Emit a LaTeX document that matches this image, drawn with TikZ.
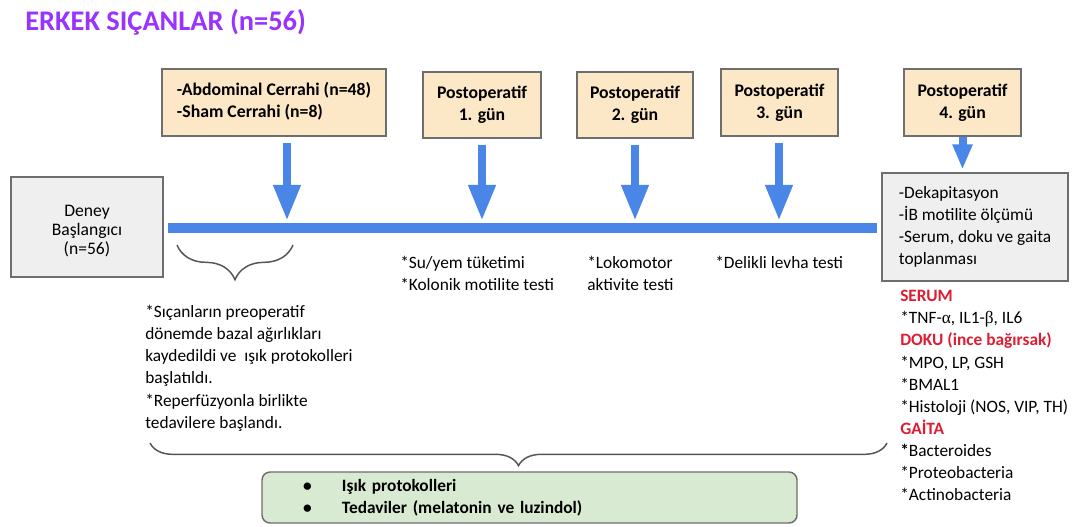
\documentclass[tikz,border=0pt]{standalone}
\usepackage{fontspec}
\setmainfont{Carlito}
\newfontfamily\grk{Liberation Serif}
\usetikzlibrary{arrows.meta,decorations.pathreplacing,calc}
\definecolor{cTitle}{RGB}{153,51,255}
\definecolor{cBlue}{RGB}{74,134,232}
\definecolor{cYel}{RGB}{252,232,198}
\definecolor{cGray}{RGB}{239,239,239}
\definecolor{cGreen}{RGB}{217,234,211}
\definecolor{cBord}{RGB}{110,110,110}
\definecolor{cRed}{RGB}{220,30,50}
\definecolor{cBrace}{RGB}{85,85,85}
\begin{document}
\begin{tikzpicture}[x=0.75pt,y=-0.75pt,
  every node/.style={inner sep=0pt, font=\fontsize{13}{16.6}\selectfont},
  titletext/.style={font=\fontsize{21.3}{25}\selectfont\bfseries, text=cTitle, anchor=west},
  yelbox/.style={draw=cBord, line width=1.1pt, fill=cYel, align=center, font=\fontsize{13.3}{16.6}\selectfont\bfseries},
  graybox/.style={draw=cBord, line width=1.1pt, fill=cGray, align=left},
  greenbox/.style={draw=cBord, line width=1.1pt, fill=cGreen, rounded corners=6pt, align=left, font=\fontsize{13}{16.3}\selectfont\bfseries},
  plaintext/.style={anchor=north west, align=left},
  timeline/.style={draw=cBlue, line width=7.5pt},
  bigarrow/.style={draw=cBlue, line width=6.5pt, shorten <=4.5pt, -{Triangle[width=19pt,length=27pt]}},
  smallarrow/.style={draw=cBlue, line width=6pt, shorten >=2pt, -{Triangle[width=14pt,length=19pt]}},
  bracedec/.style={draw=cBrace, line width=1.1pt, decorate, decoration={brace, mirror, amplitude=#1}},
  redhead/.style={text=cRed, font=\fontsize{13}{16.6}\selectfont\bfseries}
]
\useasboundingbox (0,0) rectangle (1080,527);
\fill[white] (0,0) rectangle (1080,527);

% title
\node[titletext] (title) at (25,22) {ERKEK SIÇANLAR (n=56)};

% top boxes
\node[yelbox, minimum width=168pt, minimum height=50.25pt] (b1) at (274,102.5)
  {\begin{tabular}{@{}l@{}}-Abdominal Cerrahi (n=48)\\-Sham Cerrahi (n=8)\end{tabular}};
\node[yelbox, minimum width=88.5pt, minimum height=49.5pt] (b2) at (482,105) {Postoperatif\\1. gün};
\node[yelbox, minimum width=87pt, minimum height=49.5pt] (b3) at (635,105) {Postoperatif\\2. gün};
\node[yelbox, minimum width=87.75pt, minimum height=50.25pt] (b4) at (779.5,102.5) {Postoperatif\\3. gün};
\node[yelbox, minimum width=87.75pt, minimum height=50.25pt] (b5) at (962.5,102.5) {Postoperatif\\4. gün};

% side boxes
\node[graybox, minimum width=114pt, minimum height=75pt, font=\fontsize{13.2}{14.3}\selectfont] (start) at (87,227)
  {\raisebox{-3.75pt}[\height][\depth]{\begin{tabular}{@{}c@{}}Deney\\Başlangıcı\\(n=56)\end{tabular}}};
\node[graybox, minimum width=139.5pt, minimum height=81pt] (end) at (975,227)
  {-Dekapitasyon\\-İB motilite ölçümü\\-Serum, doku ve gaita\\toplanması};

% timeline
\coordinate (tlL) at (168,228);
\coordinate (tlR) at (877,228);
\draw[timeline] (tlL) -- (tlR);

% arrow targets on the timeline
\coordinate (t1) at (287,221);
\coordinate (t2) at (482,221);
\coordinate (t3) at (635,221);
\coordinate (t4) at (779,221);

\draw[bigarrow] (b1.south -| t1) -- (t1);
\draw[bigarrow] (b2.south -| t2) -- (t2);
\draw[bigarrow] (b3.south -| t3) -- (t3);
\draw[bigarrow] (b4.south -| t4) -- (t4);
\draw[smallarrow] (b5.south) -- (b5.south |- end.north);

% texts under the timeline
\node[plaintext] (txt1) at (400,256) {*Su/yem tüketimi\\*Kolonik motilite testi};
\node[plaintext] (txt2) at (587,256) {*Lokomotor\\aktivite testi};
\node[plaintext] (txt3) at (715,256) {*Delikli levha testi};

% small brace
\coordinate (sbL) at (177,245);
\coordinate (sbR) at (293,245);
\draw[bracedec=26pt] (sbL) -- (sbR);

\node[plaintext] (pre) at (145,305)
  {*Sıçanların preoperatif\\dönemde bazal ağırlıkları\\kaydedildi ve \ ışık protokolleri\\başlatıldı.\\*Reperfüzyonla birlikte\\tedavilere başlandı.};

% results list
\node[plaintext] (res) at (900,290)
  {{\color{cRed}\bfseries SERUM}\\
   *TNF-{\grk α}, IL1-{\grk β}, IL6\\
   {\color{cRed}\bfseries DOKU (ince bağırsak)}\\
   *MPO, LP, GSH\\
   *BMAL1\\
   *Histoloji (NOS, VIP, TH)\\
   {\color{cRed}\bfseries GAİTA}\\
   {\bfseries *}Bacteroides\\
   *Proteobacteria\\
   *Actinobacteria};

% big brace
\coordinate (bbL) at (150,443);
\coordinate (bbR) at (887,443);
\draw[bracedec=17pt] (bbL) -- (bbR);

% green box
\node[greenbox, minimum width=401.25pt, minimum height=38.25pt, inner xsep=30.75pt, text width=339.75pt] (grn) at (529.5,497.5)
  {\makebox[29.25pt][l]{\textbullet}Işık protokolleri\\
   \makebox[29.25pt][l]{\textbullet}Tedaviler (melatonin ve luzindol)};
\end{tikzpicture}
\end{document}
